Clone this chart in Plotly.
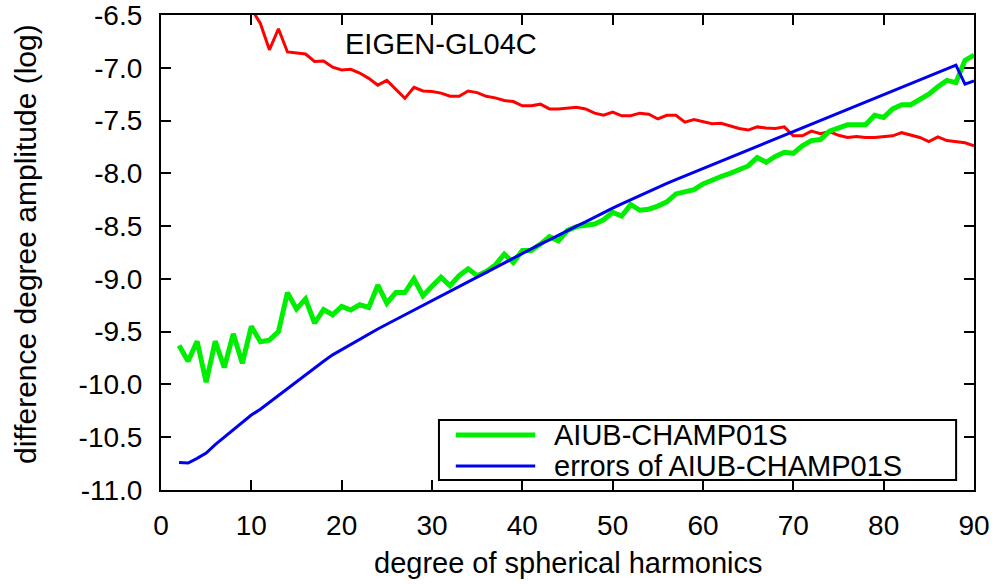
import plotly.graph_objects as go

# ---------------- data ----------------
degrees = list(range(2, 91))

aiub_champ01s = [
    -9.63, -9.78, -9.59, -9.98, -9.59, -9.84, -9.52, -9.80, -9.45, -9.595,   # 2-11
    -9.58, -9.50, -9.13, -9.285, -9.19, -9.42, -9.29, -9.34, -9.26, -9.295,  # 12-21
    -9.245, -9.27, -9.06, -9.23, -9.13, -9.13, -9.00, -9.16, -9.07, -8.985,  # 22-31
    -9.065, -8.97, -8.905, -8.97, -8.93, -8.87, -8.765, -8.845, -8.73, -8.73, # 32-41
    -8.67, -8.60, -8.64, -8.54, -8.505, -8.495, -8.48, -8.44, -8.37, -8.405, # 42-51
    -8.295, -8.35, -8.34, -8.31, -8.27, -8.195, -8.175, -8.155, -8.10, -8.06, # 52-61
    -8.03, -8.00, -7.96, -7.93, -7.85, -7.895, -7.84, -7.80, -7.81, -7.74,   # 62-71
    -7.69, -7.68, -7.60, -7.575, -7.54, -7.54, -7.54, -7.45, -7.47, -7.39,   # 72-81
    -7.35, -7.35, -7.30, -7.25, -7.18, -7.12, -7.14, -6.93, -6.88,           # 82-90
]

errors_aiub = [
    -10.74, -10.745, -10.70, -10.65, -10.57, -10.50, -10.43, -10.355, -10.29, -10.235,  # 2-11
    -10.17, -10.10, -10.035, -9.97, -9.905, -9.84, -9.78, -9.72, -9.67, -9.62,         # 12-21
    -9.57, -9.52, -9.475, -9.43, -9.385, -9.34, -9.295, -9.25, -9.205, -9.16,          # 22-31
    -9.115, -9.07, -9.025, -8.98, -8.935, -8.89, -8.845, -8.80, -8.76, -8.715,         # 32-41
    -8.67, -8.63, -8.585, -8.545, -8.50, -8.46, -8.415, -8.375, -8.33, -8.29,          # 42-51
    -8.25, -8.21, -8.17, -8.13, -8.095, -8.06, -8.025, -7.99, -7.955, -7.92,           # 52-61
    -7.885, -7.85, -7.815, -7.78, -7.74, -7.71, -7.675, -7.64, -7.605, -7.57,          # 62-71
    -7.535, -7.50, -7.465, -7.43, -7.395, -7.36, -7.325, -7.29, -7.255, -7.22,         # 72-81
    -7.185, -7.15, -7.115, -7.08, -7.045, -7.01, -6.975, -7.155, -7.125,               # 82-90
]

eigen_degrees = list(range(10, 91))
eigen_gl04c = [
    -6.44, -6.58, -6.83, -6.63, -6.85, -6.86, -6.87, -6.94, -6.935, -6.995,   # 10-19
    -7.02, -7.015, -7.05, -7.10, -7.165, -7.12, -7.205, -7.29, -7.185, -7.22, # 20-29
    -7.225, -7.24, -7.27, -7.27, -7.22, -7.235, -7.27, -7.285, -7.31, -7.32,  # 30-39
    -7.36, -7.36, -7.345, -7.39, -7.39, -7.38, -7.375, -7.39, -7.43, -7.45,   # 40-49
    -7.42, -7.455, -7.455, -7.43, -7.44, -7.485, -7.45, -7.45, -7.515, -7.49, # 50-59
    -7.51, -7.53, -7.525, -7.55, -7.575, -7.59, -7.56, -7.57, -7.575, -7.56,  # 60-69
    -7.645, -7.645, -7.60, -7.625, -7.605, -7.64, -7.66, -7.65, -7.66, -7.66, # 70-79
    -7.655, -7.645, -7.615, -7.637, -7.66, -7.70, -7.655, -7.69, -7.70, -7.71,# 80-89
    -7.74,                                                                     # 90
]

x_tick_vals = [0, 10, 20, 30, 40, 50, 60, 70, 80, 90]
x_tick_text = ["0", "10", "20", "30", "40", "50", "60", "70", "80", "90"]
y_tick_vals = [-6.5, -7.0, -7.5, -8.0, -8.5, -9.0, -9.5, -10.0, -10.5, -11.0]
y_tick_text = ["-6.5", "-7.0", "-7.5", "-8.0", "-8.5", "-9.0", "-9.5", "-10.0", "-10.5", "-11.0"]

series_names = ["AIUB-CHAMP01S", "errors of AIUB-CHAMP01S"]
GREEN, BLUE, RED = "#00ee00", "#0000f0", "#ff0000"
FONT = "Liberation Sans, Arial, Helvetica, sans-serif"

# ---------------- figure ----------------
fig = go.Figure()
fig.add_trace(go.Scatter(x=eigen_degrees, y=eigen_gl04c, mode="lines",
                         line=dict(color=RED, width=3), name="EIGEN-GL04C",
                         showlegend=False))
fig.add_trace(go.Scatter(x=degrees, y=aiub_champ01s, mode="lines",
                         line=dict(color=GREEN, width=5), name=series_names[0],
                         showlegend=False))
fig.add_trace(go.Scatter(x=degrees, y=errors_aiub, mode="lines",
                         line=dict(color=BLUE, width=3), name=series_names[1],
                         showlegend=False))

axis_common = dict(showline=True, linecolor="black", linewidth=2, mirror="ticks",
                   ticks="inside", ticklen=10, tickwidth=2, tickcolor="black",
                   showgrid=False, zeroline=False,
                   tickfont=dict(family=FONT, size=28, color="black"))

fig.update_xaxes(range=[0, 90], tickmode="array", tickvals=x_tick_vals,
                 ticktext=x_tick_text, ticklabelstandoff=9, **axis_common)
# the top label (-6.5) is dropped by plotly at the very edge of the figure,
# so it is drawn as an annotation below; the tick itself stays on the axis
y_axis_text = [""] + y_tick_text[1:]
fig.update_yaxes(range=[-11.0, -6.5], tickmode="array", tickvals=y_tick_vals,
                 ticktext=y_axis_text, ticklabelstandoff=11, **axis_common)

annotations = [
    dict(text=y_tick_text[0], x=0, y=y_tick_vals[0], xref="paper", yref="y",
         xanchor="right", yanchor="middle", xshift=-17, showarrow=False,
         font=dict(family=FONT, size=28, color="black")),
    dict(text="EIGEN-GL04C", x=20.2, y=-6.77, xref="x", yref="y",
         xanchor="left", yanchor="middle", showarrow=False,
         font=dict(family=FONT, size=29, color="black")),
    dict(text="degree of spherical harmonics", x=0.5, y=-0.154, xref="paper", yref="paper",
         xanchor="center", yanchor="middle", showarrow=False,
         font=dict(family=FONT, size=29, color="black")),
    dict(text="difference degree amplitude (log)", x=-0.166, y=0.518, xref="paper", yref="paper",
         xanchor="center", yanchor="middle", textangle=-90, showarrow=False,
         font=dict(family=FONT, size=30, color="black")),
    dict(text=series_names[0], x=0.4811, y=0.1158, xref="paper", yref="paper",
         xanchor="left", yanchor="middle", showarrow=False,
         font=dict(family=FONT, size=29, color="black")),
    dict(text=series_names[1], x=0.4811, y=0.0505, xref="paper", yref="paper",
         xanchor="left", yanchor="middle", showarrow=False,
         font=dict(family=FONT, size=29, color="black")),
]

shapes = [
    dict(type="rect", xref="paper", yref="paper", x0=0.3419, x1=0.978, y0=0.0211, y1=0.1474,
         line=dict(color="black", width=2), fillcolor="white", layer="above"),
    dict(type="line", xref="paper", yref="paper", x0=0.3626, x1=0.4603, y0=0.1158, y1=0.1158,
         line=dict(color=GREEN, width=5), layer="above"),
    dict(type="line", xref="paper", yref="paper", x0=0.3626, x1=0.4603, y0=0.0505, y1=0.0505,
         line=dict(color=BLUE, width=3), layer="above"),
]

fig.update_layout(width=1002, height=584,
                  margin=dict(l=161, r=22, t=15, b=94),
                  paper_bgcolor="white", plot_bgcolor="white",
                  showlegend=False, annotations=annotations, shapes=shapes,
                  font=dict(family=FONT, size=28, color="black"))

fig.write_html("out.html")
